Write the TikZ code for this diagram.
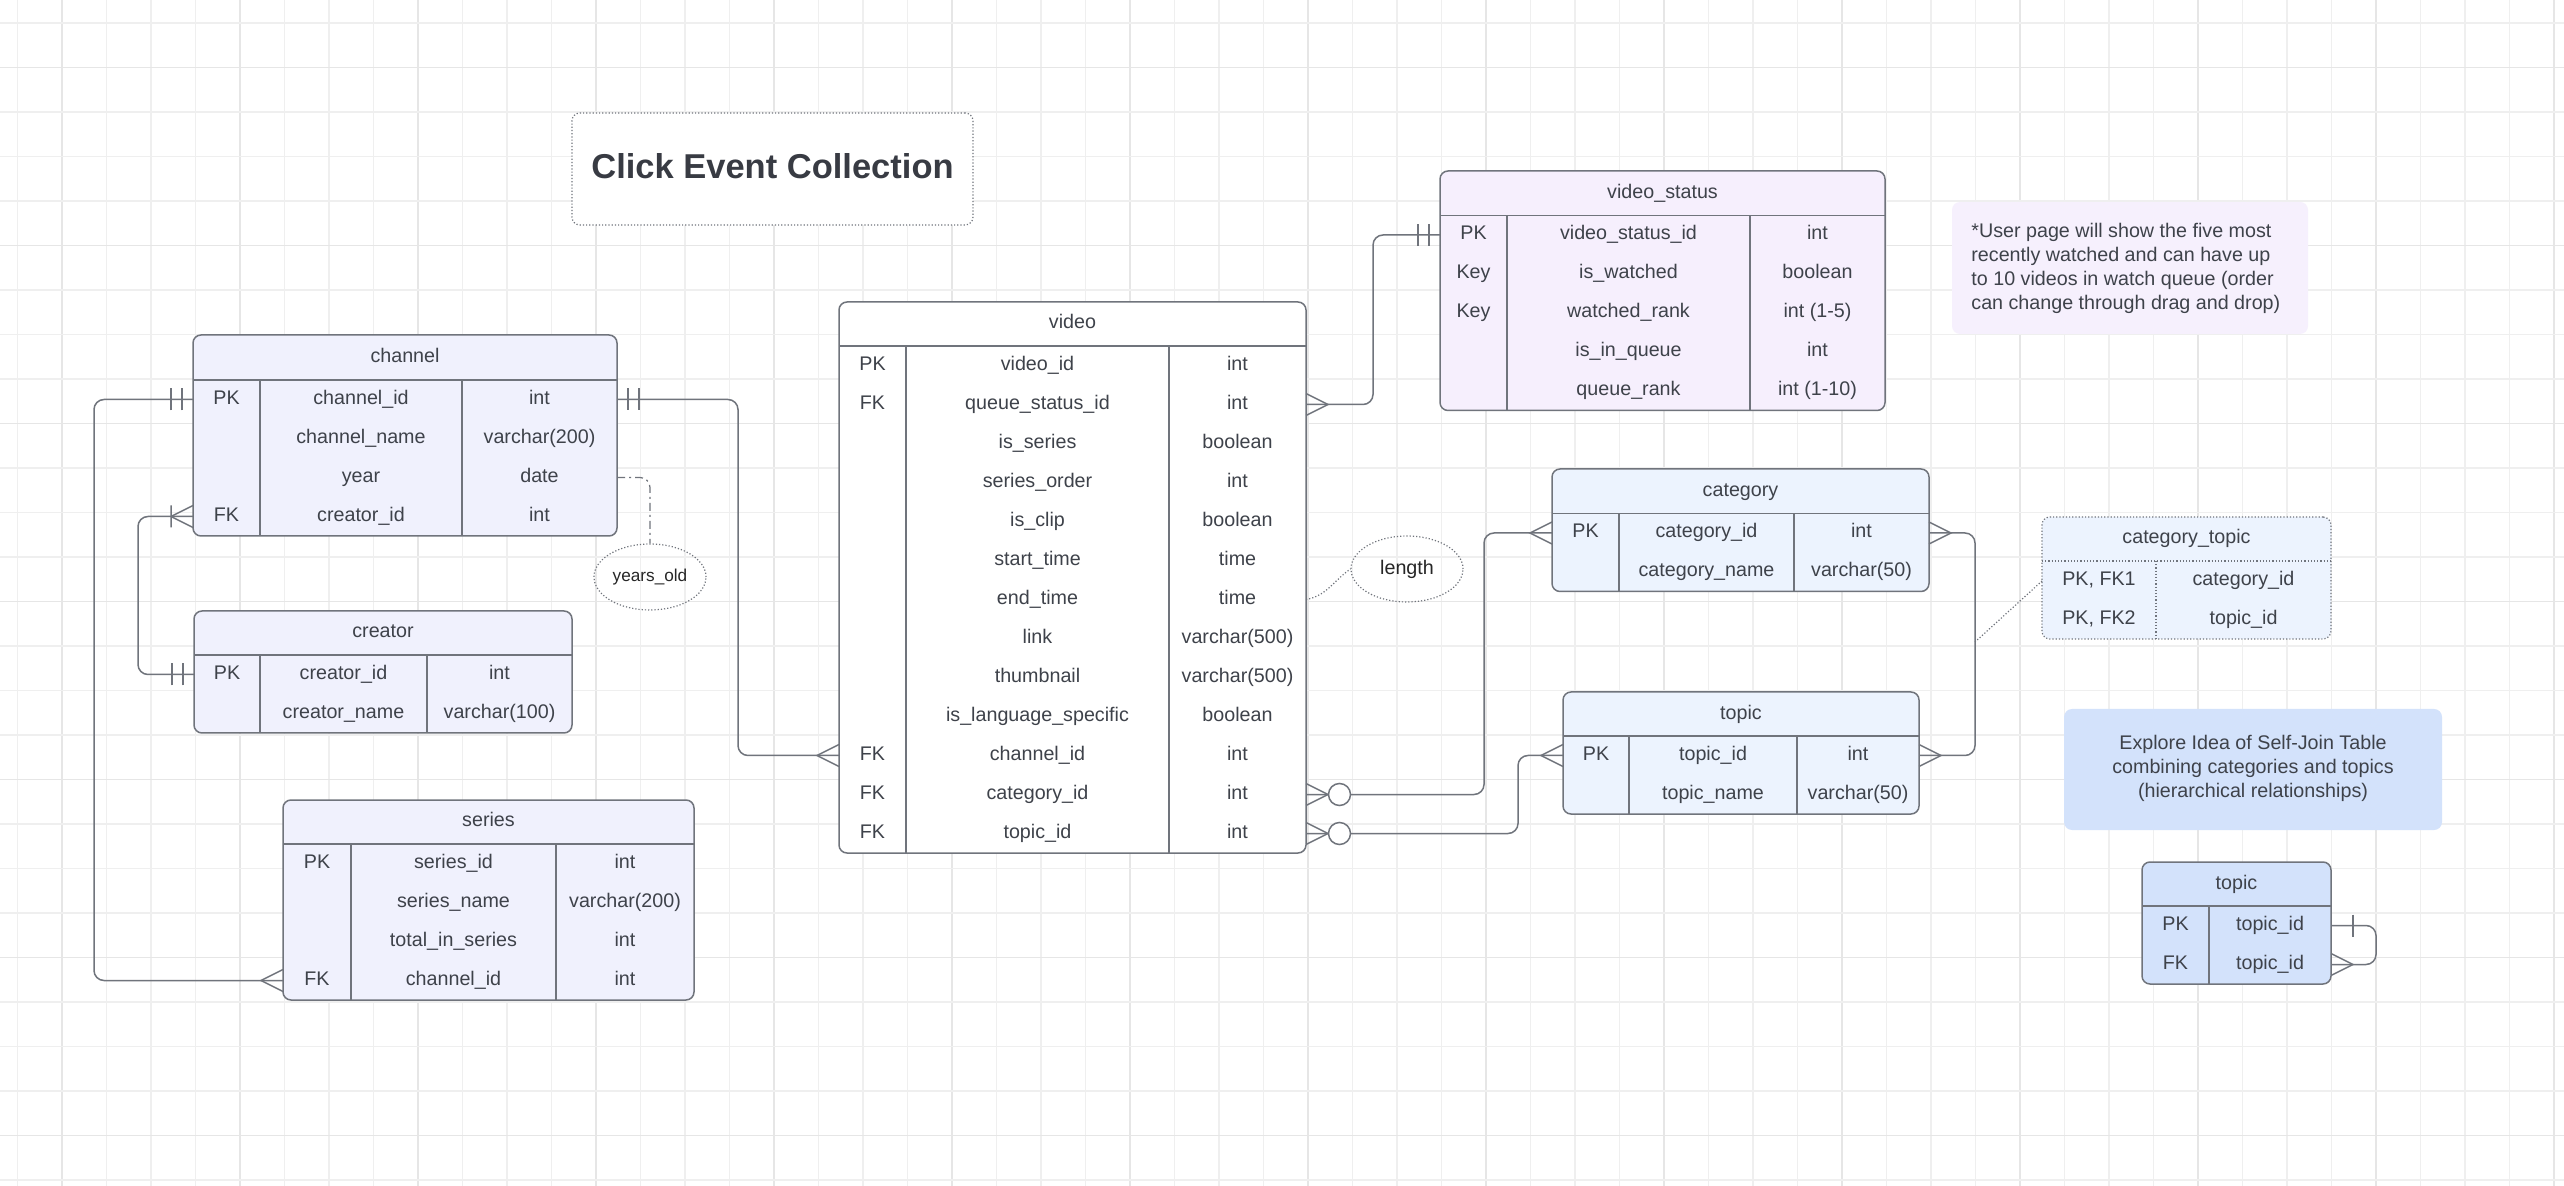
\documentclass[tikz,border=0pt]{standalone}
\usepackage{fontspec}
\setmainfont{Liberation Sans}
\usetikzlibrary{fit,shapes.geometric}
\definecolor{txtc}{RGB}{62,66,74}
\definecolor{lnc}{RGB}{112,116,124}
\definecolor{gridminor}{RGB}{239,239,239}
\definecolor{gridmajor}{RGB}{230,230,230}
\definecolor{chfill}{RGB}{240,241,253}
\definecolor{vsfill}{RGB}{246,239,253}
\definecolor{ctfill}{RGB}{236,243,254}
\definecolor{sjfill}{RGB}{211,226,251}
\definecolor{notefill}{RGB}{246,240,253}
\newcommand\ertxt{\fontsize{9.85pt}{12pt}\selectfont}
\newcommand\ertitlefont{\fontsize{17.25pt}{20pt}\selectfont\bfseries}

% table frame: name, x0, y0, x1, y1, y of header line, fill, title
\newcommand\ertbl[8]{%
  \node[tbl, fill=#7, fit={(#2,#3) (#4,#5)}] (#1) {};
  \draw[sep] (#2,#6) -- (#4,#6);
  \node[txt] (#1-title) at ({(#2+#4)/2},{(#3+#6)/2}) {#8};
}
% rows: name, x0, c1, c2, x1, y of header line, list key/field/type
\newcommand\errows[7]{%
  \foreach \k/\f/\t [count=\i] in {#7} {%
    \pgfmathsetmacro\yy{#6+19.5+39*(\i-1)}%
    \node[txt] (#1-\i-k) at ({(#2+#3)/2},\yy) {\k};
    \node[txt] (#1-\i-f) at ({(#3+#4)/2},\yy) {\f};
    \node[txt] (#1-\i-t) at ({(#4+#5)/2},\yy) {\t};
    \coordinate (#1-\i-w) at (#2,\yy);
    \coordinate (#1-\i-e) at (#5,\yy);
  }%
}

\begin{document}
\begin{tikzpicture}[x=0.5pt,y=-0.5pt,
  tbl/.style={draw=lnc, line width=0.75pt, rounded corners=4pt, inner sep=0pt},
  tbldot/.style={draw=lnc, line width=0.6pt, densely dotted, rounded corners=4pt, inner sep=0pt},
  sep/.style={draw=lnc, line width=0.75pt},
  sepdot/.style={draw=lnc, line width=0.6pt, densely dotted},
  txt/.style={text=txtc, font=\ertxt, inner sep=0pt, text height=7pt, text depth=2pt},
  para/.style={text=txtc, font=\ertxt, inner sep=0pt},
  conn/.style={draw=lnc, line width=0.75pt, rounded corners=5pt},
  sym/.style={draw=lnc, line width=0.75pt},
  crowfoot/.pic={\draw[sym] (0,-11) -- (22,0) -- (0,11);},
  zeromany/.pic={\draw[sym] (0,-11) -- (22,0) -- (0,11);
                 \draw[sym, fill=white] (33.5,0) circle[radius=11];},
  onemany/.pic={\draw[sym] (0,-11) -- (22,0) -- (0,11) (22,-11) -- (22,11);},
  mandone/.pic={\draw[sym] (11,-11) -- (11,11) (22,-11) -- (22,11);},
  onebar/.pic={\draw[sym] (22,-11) -- (22,11);},
  ellnode/.style={draw=lnc, line width=0.6pt, densely dotted, ellipse, inner sep=0pt,
                  minimum width=56pt, minimum height=33pt, text=black!85}
]
\useasboundingbox (0,0) rectangle (2564,1186);
\fill[white] (0,0) rectangle (2564,1186);

% grid
\foreach \k in {0,...,57} {
  \pgfmathsetmacro\gx{17.5+44.5*\k}
  \pgfmathtruncatemacro\gm{mod(\k,4)}
  \ifnum\gm=1
    \draw[gridmajor, line width=0.7pt] (\gx,0) -- (\gx,1186);
  \else
    \draw[gridminor, line width=0.55pt] (\gx,0) -- (\gx,1186);
  \fi
}
\foreach \k in {0,...,26} {
  \pgfmathsetmacro\gy{23+44.5*\k}
  \pgfmathtruncatemacro\gm{mod(\k,4)}
  \ifnum\gm=1
    \draw[gridmajor, line width=0.7pt] (0,\gy) -- (2564,\gy);
  \else
    \draw[gridminor, line width=0.55pt] (0,\gy) -- (2564,\gy);
  \fi
}

% title
\node[tbldot, fit={(572,113) (973,225)}, fill=white] (titlebox) {};
\node[text=txtc!90!black, font=\ertitlefont, inner sep=0pt] (titletext) at (772.5,166) {Click Event Collection};

% channel
\ertbl{channel}{193}{335}{617}{536}{380}{chfill}{channel}
\draw[sep] (260,380) -- (260,536) (462,380) -- (462,536);
\errows{channel}{193}{260}{462}{617}{380}{PK/channel\_id/int, {}/channel\_name/varchar(200), {}/year/date, FK/creator\_id/int}

% creator
\ertbl{creator}{194}{611}{572}{733}{655}{chfill}{creator}
\draw[sep] (260,655) -- (260,733) (427,655) -- (427,733);
\errows{creator}{194}{260}{427}{572}{655}{PK/creator\_id/int, {}/creator\_name/varchar(100)}

% series
\ertbl{series}{283}{800}{694}{1000}{844}{chfill}{series}
\draw[sep] (351,844) -- (351,1000) (556,844) -- (556,1000);
\errows{series}{283}{351}{556}{694}{844}{PK/series\_id/int, {}/series\_name/varchar(200), {}/total\_in\_series/int, FK/channel\_id/int}

% video
\ertbl{video}{839}{302}{1306}{853}{346}{white}{video}
\draw[sep] (906,346) -- (906,853) (1169,346) -- (1169,853);
\errows{video}{839}{906}{1169}{1306}{346}{PK/video\_id/int, FK/queue\_status\_id/int, {}/is\_series/boolean, {}/series\_order/int, {}/is\_clip/boolean, {}/start\_time/time, {}/end\_time/time, {}/link/varchar(500), {}/thumbnail/varchar(500), {}/is\_language\_specific/boolean, FK/channel\_id/int, FK/category\_id/int, FK/topic\_id/int}

% video_status
\ertbl{status}{1440}{171}{1885}{410.5}{215.5}{vsfill}{video\_status}
\draw[sep] (1507,215.5) -- (1507,410.5) (1750,215.5) -- (1750,410.5);
\errows{status}{1440}{1507}{1750}{1885}{215.5}{PK/video\_status\_id/int, Key/is\_watched/boolean, Key/watched\_rank/int (1-5), {}/is\_in\_queue/int, {}/queue\_rank/int (1-10)}

% note
\node[fill=notefill, rounded corners=4pt, inner sep=0pt, fit={(1952,202) (2308,334)}] (note) {};
\node[para, anchor=west, align=left] (notetext) at (1971,268) {*User page will show the five most\\recently watched and can have up\\to 10 videos in watch queue (order\\can change through drag and drop)};

% category
\ertbl{category}{1552}{469}{1929}{591.5}{513.5}{ctfill}{category}
\draw[sep] (1619,513.5) -- (1619,591.5) (1794,513.5) -- (1794,591.5);
\errows{category}{1552}{1619}{1794}{1929}{513.5}{PK/category\_id/int, {}/category\_name/varchar(50)}

% topic
\ertbl{topic}{1563}{692}{1919}{814}{736}{ctfill}{topic}
\draw[sep] (1629,736) -- (1629,814) (1797,736) -- (1797,814);
\errows{topic}{1563}{1629}{1797}{1919}{736}{PK/topic\_id/int, {}/topic\_name/varchar(50)}

% category_topic (dotted)
\node[tbldot, fill=ctfill, fit={(2042,517) (2331,639)}] (ct) {};
\draw[sepdot] (2042,561) -- (2331,561) (2156,561) -- (2156,639);
\node[txt] (ct-title) at (2186.5,539) {category\_topic};
\node[txt] (ct-1-k) at (2099,580.5) {PK, FK1};
\node[txt] (ct-1-f) at (2243.5,580.5) {category\_id};
\node[txt] (ct-2-k) at (2099,619.5) {PK, FK2};
\node[txt] (ct-2-f) at (2243.5,619.5) {topic\_id};
\coordinate (ct-1-w) at (2042,581);

% explore box
\node[fill=sjfill, rounded corners=4pt, inner sep=0pt, fit={(2064,709) (2442,830)}] (explore) {};
\node[para, align=center] (exploretext) at (2253,768) {Explore Idea of Self-Join Table\\combining categories and topics\\(hierarchical relationships)};

% self-join topic
\ertbl{sj}{2142}{862}{2331}{984}{906}{sjfill}{topic}
\draw[sep] (2209,906) -- (2209,984);
\node[txt] (sj-1-k) at (2175.5,925.5) {PK};
\node[txt] (sj-1-f) at (2270,925.5) {topic\_id};
\node[txt] (sj-2-k) at (2175.5,964.5) {FK};
\node[txt] (sj-2-f) at (2270,964.5) {topic\_id};
\coordinate (sj-1-e) at (2331,925.5);
\coordinate (sj-2-e) at (2331,964.5);

% attribute ellipses
\node[ellnode, font=\fontsize{8.6pt}{10pt}\selectfont] (years) at (650,577) {years\_old};
\node[ellnode, font=\ertxt] (length) at (1407,569) {length};

% ---------- connectors ----------
% channel PK -> series FK
\draw[conn] (channel-1-w) -- ++(-99,0) |- (series-4-w);
\pic[rotate=180] at (channel-1-w) {mandone};
\pic[rotate=180] at (series-4-w) {crowfoot};
% channel FK creator_id -> creator PK
\draw[conn] (channel-4-w) -- ++(-55,0) |- (creator-1-w);
\pic[rotate=180] at (channel-4-w) {onemany};
\pic[rotate=180] at (creator-1-w) {mandone};
% channel PK -> video FK channel_id
\draw[conn] (channel-1-e) -- ++(121,0) |- (video-11-w);
\pic at (channel-1-e) {mandone};
\pic[rotate=180] at (video-11-w) {crowfoot};
% year -> years_old
\draw[draw=lnc, line width=0.6pt, dash pattern=on 4pt off 2pt on 1pt off 2pt, rounded corners=5pt] (channel-3-e) -| (years.north);
% end_time -> length
\draw[draw=lnc, line width=0.6pt, densely dotted] (video-7-e) to[out=10,in=215] (length.west);
% video queue_status_id -> video_status
\draw[conn] (video-2-e) -- ++(67,0) |- (status-1-w);
\pic at (video-2-e) {crowfoot};
\pic[rotate=180] at (status-1-w) {mandone};
% video category_id -> category
\draw[conn] (video-12-e) -- ++(178,0) |- (category-1-w);
\pic at (video-12-e) {zeromany};
\pic[rotate=180] at (category-1-w) {crowfoot};
% video topic_id -> topic
\draw[conn] (video-13-e) -- ++(212,0) |- (topic-1-w);
\pic at (video-13-e) {zeromany};
\pic[rotate=180] at (topic-1-w) {crowfoot};
% category <-> topic
\draw[conn] (category-1-e) -- ++(46,0) |- (topic-1-e);
\pic at (category-1-e) {crowfoot};
\pic at (topic-1-e) {crowfoot};
\coordinate (assoc) at (1975,642);
\draw[draw=lnc, line width=0.6pt, densely dotted] (ct-1-w) -- (assoc);
% self join
\draw[conn] (sj-1-e) -- ++(45,0) |- (sj-2-e);
\pic at (sj-1-e) {onebar};
\pic at (sj-2-e) {crowfoot};
\end{tikzpicture}
\end{document}
